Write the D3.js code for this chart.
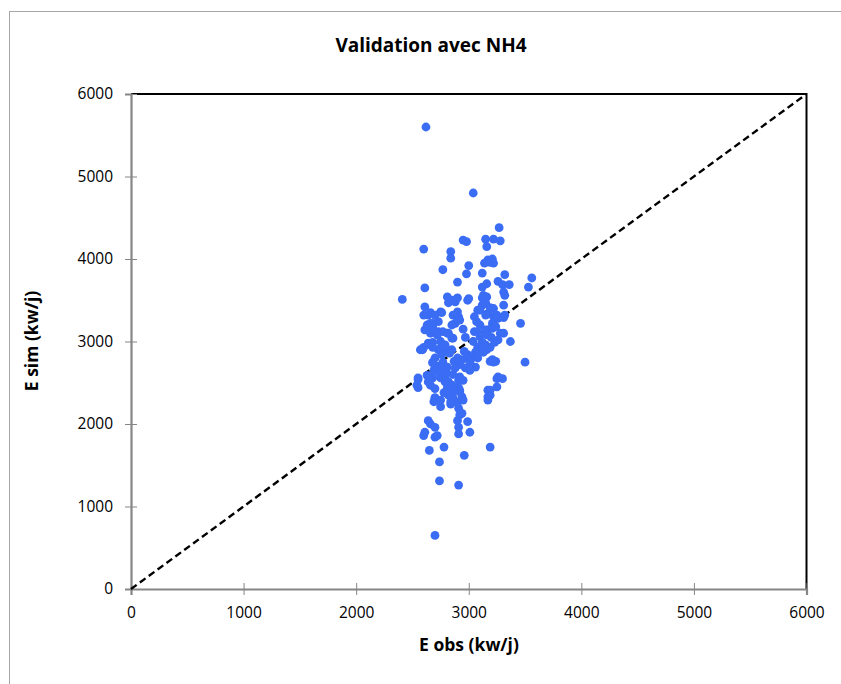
<!DOCTYPE html>
<html>
<head>
<meta charset="utf-8">
<script src="https://cdn.jsdelivr.net/npm/d3@7"></script>
<style>
  body { margin: 0; background: #fff; }
  text { font-family: "Open Sans", "Liberation Sans", Arial, sans-serif; fill: #000; }
</style>
</head>
<body>
<script>
// observed energy (x) and simulated energy (y), kw/j
let obsValues = [
  2620, 3040, 3270, 2600, 2840, 2950, 2980, 3150, 3220, 3280, 3160, 2840, 3170, 3210,
  3000, 3140, 3190, 3220, 3120, 2770, 2980, 3320, 3560, 2900, 2610, 3120, 3160, 3260,
  3300, 3360, 3530, 3310, 2410, 2810, 2880, 2990, 3130, 3160, 3120, 3150, 2610, 2640,
  2750, 2900, 2910, 3080, 3170, 3220, 3310, 3460, 2680, 2730, 2880, 2920, 3070, 3210,
  3260, 3320, 2610, 2660, 2730, 2820, 2850, 3050, 3170, 3310, 3370, 3500, 2570, 2640,
  2730, 2850, 2940, 2990, 3030, 3060, 3080, 3150, 3160, 2680, 2730, 2790, 3190, 3240,
  2970, 3010, 2550, 2550, 2640, 2700, 2790, 2820, 2820, 2910, 2920, 2940, 3250, 3300,
  3170, 3190, 2700, 2690, 2750, 2840, 2880, 2950, 2910, 2920, 2940, 3170, 2640, 2660,
  2700, 2900, 2910, 2990, 2910, 3010, 2600, 2610, 2700, 2720, 2780, 2650, 3190, 2960,
  2740, 2740, 2910, 2700,
  2600, 2660, 2700, 2630, 2660, 2680, 2760, 2820, 2860, 2900, 3000, 3120, 3320, 2860,
  2900, 2850, 2810, 2770, 2860, 2720, 2680, 2660, 2600, 2970, 3100, 3150, 3190, 3220,
  3250, 3100, 3080, 3150, 3160, 3120, 3210, 3240, 3310, 3280, 3260,
  2590, 2680, 2750, 2810, 2700, 2680, 2770, 2810, 2900, 2920, 2990, 3010, 3060, 3080,
  3120, 3190, 3210, 3220, 2630, 2680, 2660, 2540, 2750, 2790, 2820, 2810, 2920, 2950,
  2910, 2920, 2700, 2750, 2860, 2900, 2840, 3260, 3250, 3190, 3170, 2850, 2550,
  2750, 2790, 2830, 2870, 2760, 2800, 2860, 2740, 2880, 2960, 3040, 3100, 3200, 3230,
  2690, 2780, 2870, 3130, 3050, 2950
];
let simValues = [
  5600, 4800, 4380, 4120, 4090, 4230, 4210, 4240, 4240, 4220, 4150, 4010, 3990, 4000,
  3920, 3950, 3960, 3950, 3830, 3870, 3820, 3810, 3770, 3720, 3650, 3660, 3700, 3730,
  3690, 3690, 3660, 3600, 3510, 3540, 3480, 3500, 3560, 3540, 3440, 3470, 3420, 3320,
  3360, 3360, 3300, 3380, 3340, 3400, 3440, 3220, 3220, 3240, 3220, 3260, 3240, 3220,
  3280, 3320, 3140, 3100, 3120, 3100, 3040, 3120, 3140, 3100, 3000, 2750, 2900, 2980,
  2900, 2900, 2780, 2840, 2800, 2690, 2930, 2960, 2900, 2750, 2700, 2670, 2760, 2760,
  2680, 2650, 2540, 2440, 2510, 2430, 2510, 2420, 2350, 2530, 2410, 2330, 2550, 2550,
  2410, 2350, 2310, 2270, 2210, 2240, 2270, 2290, 2190, 2110, 2130, 2290, 2040, 2000,
  1960, 2040, 1960, 2030, 1880, 1900, 1860, 1900, 1840, 1860, 1720, 1680, 1720, 1620,
  1540, 1310, 1260, 650,
  3320, 3350, 3320, 3200, 3220, 3180, 3350, 3470, 3500, 3530, 3520, 3530, 3560, 3320,
  3260, 3200, 3100, 3120, 3040, 3080, 2990, 2960, 2930, 3050, 3380, 3320, 3410, 3300,
  3320, 3200, 3120, 3140, 3080, 2990, 3160, 3180, 3290, 3100, 3020,
  2900, 2930, 2920, 2900, 2800, 2740, 2750, 2690, 2800, 2720, 2800, 2750, 2870, 2800,
  2920, 2930, 2780, 2750, 2590, 2560, 2470, 2470, 2560, 2570, 2510, 2440, 2570, 2530,
  2440, 2390, 2320, 2290, 2320, 2260, 2270, 2570, 2450, 2410, 2330, 2470, 2560,
  3000, 2960, 2860, 2760, 2840, 2620, 2600, 2620, 2680, 2880, 3000, 3060, 3050, 2990,
  2650, 2380, 2400, 2870, 3300, 3150
];
let xTicks = [0, 1000, 2000, 3000, 4000, 5000, 6000];
let yTicks = [0, 1000, 2000, 3000, 4000, 5000, 6000];
let lineEnds = [0, 6000];

let points = obsValues.map((v, i) => ({obs: v, sim: simValues[i]}));

let width = 841, height = 684;
let plotLeft = 131, plotRight = 806.5, plotTop = 94, plotBottom = 589;

let svg = d3.select("body").append("svg")
    .attr("width", width)
    .attr("height", height);

// outer chart frame (runs off the right/bottom edge)
svg.append("rect")
    .attr("x", 9.5).attr("y", 11.5)
    .attr("width", 900).attr("height", 700)
    .attr("fill", "#fff")
    .attr("stroke", "#a6a6a6")
    .attr("stroke-width", 1);

let x = d3.scaleLinear().domain([0, 6000]).range([plotLeft, plotRight]);
let y = d3.scaleLinear().domain([0, 6000]).range([plotBottom, plotTop]);

// top and right border of the plot area
svg.append("path")
    .attr("d", `M${plotLeft},${plotTop}H${plotRight}V${plotBottom}`)
    .attr("fill", "none")
    .attr("stroke", "#000")
    .attr("stroke-width", 2);

// axes
let xAxis = d3.axisBottom(x).tickValues(xTicks).tickSize(6).tickPadding(12).tickFormat(d3.format("d"));
let yAxis = d3.axisLeft(y).tickValues(yTicks).tickSize(6).tickPadding(12).tickFormat(d3.format("d"));

let gx = svg.append("g").attr("transform", `translate(0,${plotBottom})`).call(xAxis);
let gy = svg.append("g").attr("transform", `translate(${plotLeft},0)`).call(yAxis);

[gx, gy].forEach(g => {
    g.select(".domain").attr("stroke", "#868686").attr("stroke-width", 2.2);
    g.selectAll(".tick line").attr("stroke", "#868686").attr("stroke-width", 1);
    g.selectAll(".tick text").attr("font-size", 15.5).attr("fill", "#000")
        .style("font-family", '"Open Sans", "Liberation Sans", Arial, sans-serif');
});
// ticks cross the axis line
gx.selectAll(".tick line").attr("y1", -6);
gy.selectAll(".tick line").attr("x1", 6);

// 1:1 line
svg.append("line")
    .attr("x1", x(lineEnds[0])).attr("y1", y(lineEnds[0]))
    .attr("x2", x(lineEnds[1])).attr("y2", y(lineEnds[1]))
    .attr("stroke", "#000")
    .attr("stroke-width", 2.4)
    .attr("stroke-dasharray", "7,4");

// scatter points
svg.selectAll("circle.pt")
    .data(points)
    .enter()
    .append("circle")
    .attr("class", "pt")
    .attr("cx", d => x(d.obs))
    .attr("cy", d => y(d.sim))
    .attr("r", 4.4)
    .attr("fill", "#3a6cf4");

// titles
svg.append("text")
    .attr("x", 431).attr("y", 52)
    .attr("text-anchor", "middle")
    .attr("font-size", 19).attr("font-weight", "bold")
    .text("Validation avec NH4");

svg.append("text")
    .attr("x", 469).attr("y", 651)
    .attr("text-anchor", "middle")
    .attr("font-size", 17.5).attr("font-weight", "bold")
    .text("E obs (kw/j)");

svg.append("text")
    .attr("transform", "translate(38,341) rotate(-90)")
    .attr("text-anchor", "middle")
    .attr("font-size", 17.5).attr("font-weight", "bold")
    .text("E sim (kw/j)");
</script>
</body>
</html>
